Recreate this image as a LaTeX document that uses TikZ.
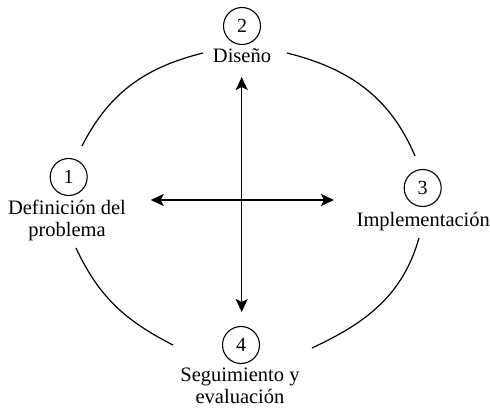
\documentclass[tikz,border=0pt]{standalone}
\usepackage{fontspec}
\setmainfont{Liberation Serif}
\usetikzlibrary{arrows.meta}
\begin{document}
\begin{tikzpicture}[x=1pt,y=1pt,
  num/.style={circle,draw,line width=1.1pt,minimum size=37pt,inner sep=0pt,font=\fontsize{20}{22}\selectfont},
  lbl/.style={align=center,anchor=base,inner sep=0pt,font=\fontsize{20.5}{22.5}\selectfont},
  arc/.style={line width=1.2pt},
  arr/.style={line width=1.5pt,{Stealth[length=13pt,width=12pt,inset=3pt]}-{Stealth[length=13pt,width=12pt,inset=3pt]}}]
\useasboundingbox (0,0) rectangle (490,407);
% numbered circles
\node[num] (n1) at (68.7,230) {1};
\node[num] (n2) at (242,381) {2};
\node[num] (n3) at (422.7,219) {3};
\node[num] (n4) at (241,62) {4};
% labels (base anchor = baseline of last line)
\node[lbl] (l2) at (242,344.3) {Diseño};
\node[lbl] (l1) at (67,170.3) {Definición del\\problema};
\node[lbl] (l3) at (423.3,180) {Implementación};
\node[lbl] (l4) at (240,3.5) {Seguimiento y\\evaluación};
% arc end points
\coordinate (a1s) at (82,261);
\coordinate (a1e) at (203,354);
\coordinate (a2s) at (287,354);
\coordinate (a2e) at (415,251);
\coordinate (a3s) at (419,169);
\coordinate (a3e) at (312,59);
\coordinate (a4s) at (76,159);
\coordinate (a4e) at (173,62);
\draw[arc] (a1s) to[out=63,in=194] (a1e);
\draw[arc] (a2s) to[out=-14,in=113] (a2e);
\draw[arc] (a3s) to[out=-106,in=25] (a3e);
\draw[arc] (a4s) to[out=-65,in=153] (a4e);
% cross arrows
\coordinate (top) at (241.7,330);
\coordinate (bot) at (241.7,95);
\coordinate (lft) at (150.7,207);
\coordinate (rgt) at (334,207);
\draw[arr] (top) -- (bot);
\draw[arr] (lft) -- (rgt);
\end{tikzpicture}
\end{document}
